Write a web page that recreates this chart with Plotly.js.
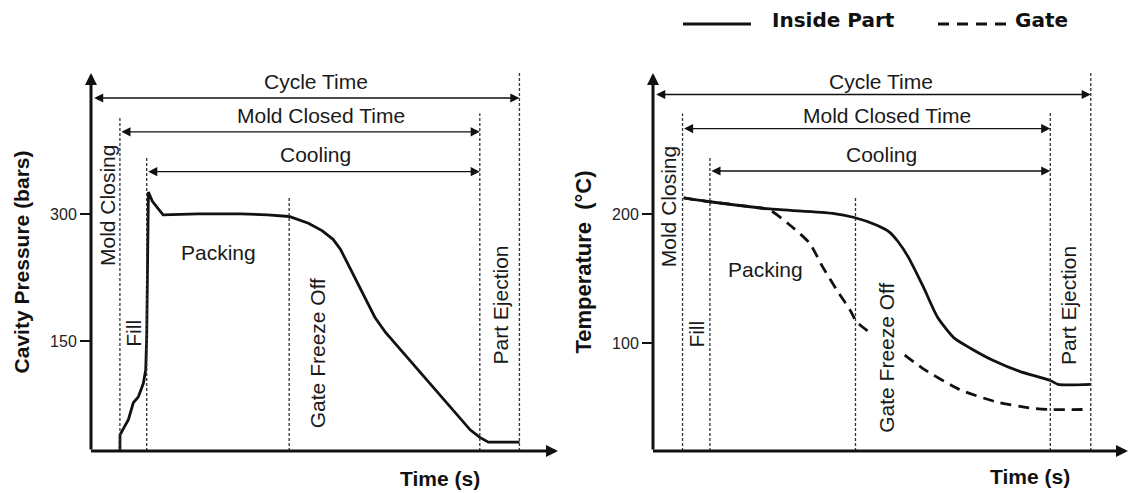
<!DOCTYPE html>
<html><head><meta charset="utf-8">
<script src="https://cdn.plot.ly/plotly-3.0.1.min.js"></script>
<style>html,body{margin:0;padding:0;background:#fff;}#chart{width:1129px;height:493px;}</style>
</head><body><div id="chart"></div>
<script>
// ---- data (time in s) ----
const eventTimes = [2.7, 5.2, 18.5, 36.3, 40];   // mold closed, fill end, gate freeze, mold open, cycle end
const pressureTime = [2.7, 2.71, 2.96, 3.49, 3.95, 4.42, 4.89, 5.11, 5.2, 5.3, 5.36, 5.73, 6.73, 10.0, 14.0, 16.5, 18.5, 20.3, 21.6, 22.6, 23.3, 24.3, 25.3, 26.5, 27.5, 31.5, 35.4, 36.3, 37.1, 40.0];
const pressureBars = [20, 39, 45, 57, 77, 84, 100, 116, 155, 234, 326, 315, 299, 300, 300, 299, 297, 289, 280, 270, 258, 233, 208, 178, 160, 102, 45, 36, 30.5, 30.5];
const insideTime = [2.8, 5.2, 10.7, 16.4, 18.3, 20.4, 21.6, 22.4, 23.3, 24.7, 26.0, 27.5, 29.0, 31.2, 33.5, 36.3, 37.0, 40.0];
const insideTemp = [212.5, 209.5, 204, 200.5, 197.5, 191.5, 186, 178.5, 167, 143.5, 120, 104, 96, 86, 78, 71, 68, 68];
const gateTime = [2.8, 5.2, 9.5, 10.7, 12.5, 14.3, 15.5, 16.8, 18.0, 18.6, 19.7, null, 23.0, 24.7, 28.0, 31.3, 34.6, 36.3, 40.0];
const gateTemp = [212.5, 209.5, 205, 203, 191.5, 177.5, 159, 141, 125.6, 116.5, 108.8, null, 90.7, 80, 64, 54.5, 49.5, 48.5, 48.5];
const pressureTicks = [150, 300];
const tempTicks = [100, 200];

const FF = 'Liberation Sans, Arial, Helvetica, sans-serif';
const INK = '#111';
const W = 1129, H = 493;
const px = v => v / W, py = v => 1 - v / H;

const panels = [
  {xr:'x', yr:'y', ymin:20, ymax:466.5, xmax:43.6,
   lineTops:[414.5, 367, 321, 419, 466.5],
   arrows:[437, 397, 350],
   texts:{cycle:[20.97,456], closed:[21.5,416], cooling:[20.97,370], packing:[11.93,255],
          closing:[1.54,310], fill:[3.96,159], gate:[21.14,136], eject:[38.2,192]}},
  {xr:'x2', yr:'y2', ymin:16.3, ymax:309.3, xmax:43.4,
   lineTops:[278, 244, 214, 278.6, 309.3],
   arrows:[292.6, 266.2, 233.3],
   texts:{cycle:[20.85,303], closed:[21.34,276.7], cooling:[20.85,246.4], packing:[10.32,157.3],
          closing:[1.49,205.5], fill:[4.01,107.2], gate:[21.34,88.2], eject:[37.95,129]}}
];

const shapes = [], annotations = [];
function arrowAnn(p, x0, y0, x1, y1, w, size, both) {
  const a = {xref:p.xr, yref:p.yr, axref:p.xr, ayref:p.yr, x:x1, y:y1, ax:x0, ay:y0, text:'',
    showarrow:true, arrowhead:2, arrowsize:size, arrowwidth:w, arrowcolor:INK, standoff:0};
  if (both) { a.arrowside = 'end+start'; a.startarrowhead = 2; a.startarrowsize = size; a.startstandoff = 0; }
  annotations.push(a);
}
function label(p, pos, text, angle) {
  annotations.push({xref:p.xr, yref:p.yr, x:pos[0], y:pos[1], text:text, showarrow:false,
    textangle:angle || 0, xanchor:'center', yanchor:'middle',
    font:{family:FF, size:21, color:'#1a1a1a'}});
}
panels.forEach(p => {
  // axes with arrowheads
  arrowAnn(p, 0, p.ymin, 0, p.ymax, 3, 0.8, false);
  arrowAnn(p, -0.14, p.ymin, p.xmax, p.ymin, 3, 0.8, false);
  // dashed phase lines
  eventTimes.forEach((t, i) => shapes.push({type:'line', xref:p.xr, yref:p.yr, x0:t, x1:t,
    y0:p.ymin, y1:p.lineTops[i], line:{color:'#333', width:1.3, dash:'3px,2px'}}));
  // span arrows
  arrowAnn(p, 0.15, p.arrows[0], eventTimes[4], p.arrows[0], 1.4, 1.3, true);
  arrowAnn(p, eventTimes[0], p.arrows[1], eventTimes[3], p.arrows[1], 1.4, 1.3, true);
  arrowAnn(p, eventTimes[1], p.arrows[2], eventTimes[3], p.arrows[2], 1.4, 1.3, true);
  const T = p.texts;
  label(p, T.cycle, 'Cycle Time');
  label(p, T.closed, 'Mold Closed Time');
  label(p, T.cooling, 'Cooling');
  label(p, T.packing, 'Packing');
  label(p, T.closing, 'Mold Closing', -90);
  label(p, T.fill, 'Fill', -90);
  label(p, T.gate, 'Gate Freeze Off', -90);
  label(p, T.eject, 'Part Ejection', -90);
});
// x axis titles
[[440, 478], [1030, 476]].forEach(c => annotations.push({xref:'paper', yref:'paper', x:px(c[0]), y:py(c[1]),
  text:'<b>Time (s)</b>', showarrow:false, xanchor:'center', yanchor:'middle', font:{family:FF, size:21, color:INK}}));
// custom legend
shapes.push({type:'line', xref:'paper', yref:'paper', x0:px(683), x1:px(751), y0:py(24), y1:py(24), line:{color:INK, width:3}});
shapes.push({type:'line', xref:'paper', yref:'paper', x0:px(938), x1:px(1008), y0:py(24), y1:py(24), line:{color:INK, width:3, dash:'11px,8px'}});
annotations.push({xref:'paper', yref:'paper', x:px(770), y:py(20), text:'<b>Inside Part</b>', showarrow:false,
  xanchor:'left', yanchor:'middle', font:{family:'DejaVu Sans', size:20, color:INK}});
annotations.push({xref:'paper', yref:'paper', x:px(1013), y:py(20), text:'<b>Gate</b>', showarrow:false,
  xanchor:'left', yanchor:'middle', font:{family:'DejaVu Sans', size:20, color:INK}});

const traces = [
  {x:pressureTime, y:pressureBars, xaxis:'x', yaxis:'y', mode:'lines', name:'Cavity Pressure',
   line:{color:INK, width:2.8}},
  {x:insideTime, y:insideTemp, xaxis:'x2', yaxis:'y2', mode:'lines', name:'Inside Part',
   line:{color:INK, width:2.8, shape:'spline', smoothing:0.6}},
  {x:gateTime, y:gateTemp, xaxis:'x2', yaxis:'y2', mode:'lines', name:'Gate', connectgaps:false,
   line:{color:INK, width:2.8, dash:'11px,7px', shape:'spline', smoothing:0.6}}
];
const xCommon = {showgrid:false, zeroline:false, showline:false, showticklabels:false, ticks:''};
const yCommon = {showgrid:false, zeroline:false, showline:false, ticks:'outside', ticklen:10, tickwidth:2,
  tickcolor:INK, tickfont:{family:FF, size:16, color:'#222'}};
const layout = {
  width:W, height:H, margin:{l:0, r:0, t:0, b:0}, paper_bgcolor:'#fff', plot_bgcolor:'#fff', showlegend:false,
  xaxis:Object.assign({domain:[px(91), px(558)], range:[0, 43.6], anchor:'y'}, xCommon),
  yaxis:Object.assign({domain:[py(451), py(73)], range:[20, 466.5], anchor:'x', tickvals:pressureTicks,
    title:{text:'<b>Cavity Pressure (bars)</b>', font:{family:FF, size:21, color:INK}, standoff:14}}, yCommon),
  xaxis2:Object.assign({domain:[px(653), px(1128)], range:[0, 43.4], anchor:'y2'}, xCommon),
  yaxis2:Object.assign({domain:[py(451), py(73)], range:[16.3, 309.3], anchor:'x2', tickvals:tempTicks,
    title:{text:'<b>Temperature  (°C)</b>', font:{family:FF, size:22, color:INK}, standoff:14}}, yCommon),
  shapes:shapes, annotations:annotations
};
Plotly.newPlot('chart', traces, layout, {displayModeBar:false, staticPlot:true});
</script></body></html>
